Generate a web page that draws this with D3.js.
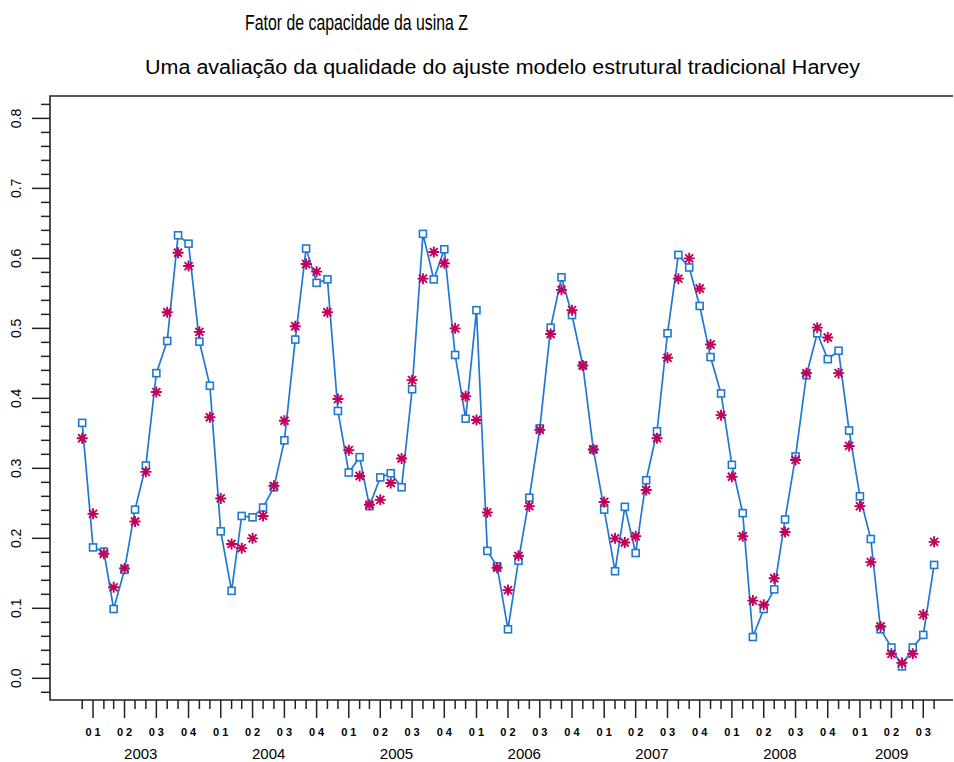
<!DOCTYPE html>
<html>
<head>
<meta charset="utf-8">
<script src="https://cdn.jsdelivr.net/npm/d3@7/dist/d3.min.js"></script>
<style>
  html, body { margin: 0; padding: 0; background: #fff; }
  svg { display: block; }
  text { font-family: "Liberation Sans", Arial, sans-serif; fill: #000; }
  .title { font-family: "Liberation Sans Narrow", "Liberation Sans", Arial, sans-serif; }
</style>
</head>
<body>
<svg id="chart" width="954" height="762"></svg>
<script>
// Monthly capacity factor, Dec 2002 – Aug 2009
const startYear = 2002, startMonth = 11; // December 2002
const observed = [
  0.365,
  0.187, 0.181, 0.099, 0.155, 0.241, 0.304, 0.436, 0.482, 0.633, 0.621, 0.481, 0.418,
  0.210, 0.125, 0.232, 0.230, 0.244, 0.273, 0.340, 0.484, 0.614, 0.565, 0.570, 0.382,
  0.294, 0.316, 0.246, 0.287, 0.293, 0.273, 0.413, 0.635, 0.570, 0.613, 0.462, 0.371,
  0.526, 0.182, 0.160, 0.070, 0.168, 0.258, 0.357, 0.501, 0.573, 0.519, 0.447, 0.327,
  0.241, 0.153, 0.245, 0.179, 0.283, 0.353, 0.493, 0.605, 0.587, 0.532, 0.459, 0.407,
  0.305, 0.236, 0.059, 0.099, 0.127, 0.227, 0.317, 0.433, 0.493, 0.456, 0.468, 0.354,
  0.260, 0.199, 0.070, 0.044, 0.017, 0.044, 0.062, 0.162
];
// Fitted values from the basic structural model
const fitted = [
  0.343,
  0.235, 0.178, 0.130, 0.157, 0.224, 0.295, 0.409, 0.523, 0.608, 0.589, 0.495, 0.373,
  0.257, 0.192, 0.186, 0.200, 0.232, 0.275, 0.368, 0.503, 0.592, 0.581, 0.523, 0.399,
  0.326, 0.289, 0.248, 0.255, 0.279, 0.314, 0.426, 0.571, 0.609, 0.593, 0.500, 0.403,
  0.369, 0.237, 0.158, 0.126, 0.175, 0.246, 0.355, 0.492, 0.555, 0.526, 0.447, 0.327,
  0.252, 0.200, 0.194, 0.203, 0.269, 0.343, 0.458, 0.571, 0.600, 0.557, 0.477, 0.376,
  0.288, 0.203, 0.111, 0.105, 0.143, 0.209, 0.312, 0.436, 0.501, 0.487, 0.436, 0.332,
  0.246, 0.166, 0.074, 0.035, 0.022, 0.035, 0.091, 0.195
];
const yTickLabels = ["0.0", "0.1", "0.2", "0.3", "0.4", "0.5", "0.6", "0.7", "0.8"];
const quarterLabels = ["01", "02", "03", "04"];
const years = [2003, 2004, 2005, 2006, 2007, 2008, 2009];
const titleText = "Fator de capacidade da usina Z";
const subtitleText = "Uma avaliação da qualidade do ajuste modelo estrutural tradicional Harvey";

const dates = observed.map((_, i) => new Date(startYear, startMonth + i, 1));
const series = dates.map((d, i) => ({ date: d, obs: observed[i], fit: fitted[i] }));

const svg = d3.select("#chart");
const plot = { left: 50, right: 953, top: 96, bottom: 700 };

const x = d3.scaleTime()
  .domain([new Date(2002, 7, 31), new Date(2009, 8, 24)])
  .range([plot.left, plot.right]);
const y = d3.scaleLinear()
  .domain([-0.031, 0.832])
  .range([plot.bottom, plot.top]);

// Titles
svg.append("text").attr("class", "title")
  .attr("x", 245).attr("y", 30)
  .attr("font-size", 22)
  .attr("textLength", 223).attr("lengthAdjust", "spacingAndGlyphs")
  .text(titleText);
svg.append("text").attr("class", "title")
  .attr("x", 145).attr("y", 74)
  .attr("font-size", 20)
  .attr("textLength", 715).attr("lengthAdjust", "spacingAndGlyphs")
  .text(subtitleText);

const axisColor = "#222";

// Frame (top, left, bottom)
svg.append("path")
  .attr("d", `M${plot.right},${plot.top}H${plot.left}V${plot.bottom}H${plot.right}`)
  .attr("fill", "none").attr("stroke", axisColor).attr("stroke-width", 1.6);

// Y axis: minor ticks every 0.02, long ticks at each tenth
const yMinor = d3.range(-1, 42).map(k => k * 0.02);
svg.append("g").selectAll("line").data(yMinor).join("line")
  .attr("x1", d => (Math.round(d * 50) % 5 === 0) ? plot.left - 18 : plot.left - 9)
  .attr("x2", plot.left)
  .attr("y1", d => y(d)).attr("y2", d => y(d))
  .attr("stroke", axisColor).attr("stroke-width", 1.5);
svg.append("g").selectAll("text").data(yTickLabels).join("text")
  .attr("transform", d => `translate(21,${y(+d)}) rotate(-90)`)
  .attr("text-anchor", "middle")
  .attr("font-size", 14)
  .text(d => d);

// X axis: monthly ticks, long ticks at quarter starts
const monthTicks = dates;
svg.append("g").selectAll("line").data(monthTicks).join("line")
  .attr("x1", d => x(d)).attr("x2", d => x(d))
  .attr("y1", plot.bottom)
  .attr("y2", d => (d.getMonth() % 3 === 0) ? plot.bottom + 18 : plot.bottom + 9)
  .attr("stroke", axisColor).attr("stroke-width", 1.5);

const quarterStarts = monthTicks.filter(d => d.getMonth() % 3 === 0);
svg.append("g").selectAll("text").data(quarterStarts).join("text")
  .attr("x", d => x(d) + 1.5).attr("y", 736)
  .attr("text-anchor", "middle")
  .attr("font-size", 11)
  .attr("font-weight", "bold")
  .attr("font-family", "DejaVu Sans Mono, monospace")
  .attr("letter-spacing", 3)
  .text(d => quarterLabels[Math.floor(d.getMonth() / 3)]);

svg.append("g").selectAll("text").data(years).join("text")
  .attr("x", yr => {
    const qs = quarterStarts.filter(d => d.getFullYear() === yr);
    return (x(qs[0]) + x(qs[qs.length - 1])) / 2;
  })
  .attr("y", 759)
  .attr("text-anchor", "middle")
  .attr("font-size", 15)
  .text(yr => yr);

// Observed series: line with hollow squares
const blue = "#1f78d2";
svg.append("path")
  .datum(series)
  .attr("fill", "none").attr("stroke", blue).attr("stroke-width", 1.7)
  .attr("d", d3.line().x(d => x(d.date)).y(d => y(d.obs)));

svg.append("g").selectAll("rect").data(series).join("rect")
  .attr("x", d => x(d.date) - 3.5).attr("y", d => y(d.obs) - 3.5)
  .attr("width", 7).attr("height", 7)
  .attr("fill", "#fff").attr("stroke", blue).attr("stroke-width", 1.6);

// Fitted values: asterisk markers
const star = "#c2005c";
const r = 5.5, rd = 4;
const starPath = `M${-r},0H${r}M0,${-r}V${r}M${-rd},${-rd}L${rd},${rd}M${-rd},${rd}L${rd},${-rd}`;
svg.append("g").selectAll("path").data(series).join("path")
  .attr("transform", d => `translate(${x(d.date)},${y(d.fit)})`)
  .attr("d", starPath)
  .attr("fill", "none").attr("stroke", star).attr("stroke-width", 1.9);
</script>
</body>
</html>
